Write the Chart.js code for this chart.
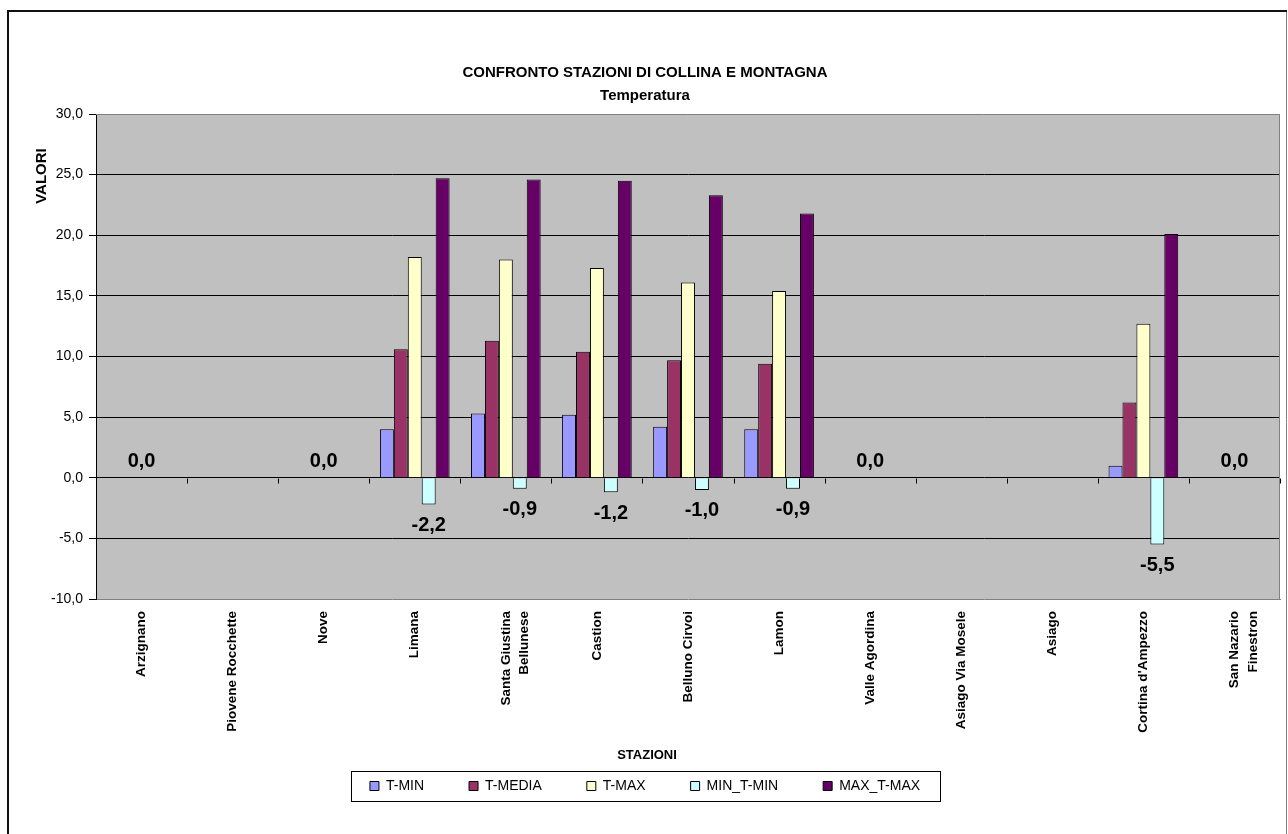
<!DOCTYPE html>
<html>
<head>
<meta charset="utf-8">
<title>Confronto stazioni di collina e montagna - Temperatura</title>
<script src="https://cdn.jsdelivr.net/npm/chart.js@4.4.1/dist/chart.umd.min.js"></script>
<style>
  html, body { margin: 0; padding: 0; background: #fff; }
  #wrap { width: 1288px; height: 834px; }
</style>
</head>
<body>
<div id="wrap"><canvas id="chart" width="1288" height="834"></canvas></div>
<script>
// Stations (two-line names are given as arrays)
const stations = [
  'Arzignano', 'Piovene Rocchette', 'Nove', 'Limana',
  ['Santa Giustina', 'Bellunese'], 'Castion', 'Belluno Cirvoi', 'Lamon',
  'Valle Agordina', 'Asiago Via Mosele', 'Asiago', "Cortina d'Ampezzo",
  ['San Nazario', 'Finestron']
];

// Temperature series (°C); null = no data for the station
const tMin    = [0, null, 0,  4.0,  5.3,  5.2,  4.2,  4.0, 0, null, null,  1.0, 0];
const tMedia  = [0, null, 0, 10.6, 11.3, 10.4,  9.7,  9.4, 0, null, null,  6.2, 0];
const tMax    = [0, null, 0, 18.2, 18.0, 17.3, 16.1, 15.4, 0, null, null, 12.7, 0];
const minTMin = [0, null, 0, -2.2, -0.9, -1.2, -1.0, -0.9, 0, null, null, -5.5, 0];
const maxTMax = [0, null, 0, 24.7, 24.6, 24.5, 23.3, 21.8, 0, null, null, 20.1, 0];

const seriesNames = ['T-MIN', 'T-MEDIA', 'T-MAX', 'MIN_T-MIN', 'MAX_T-MAX'];
const seriesColors = ['#9999FF', '#993366', '#FFFFCC', '#CCFFFF', '#660066'];

// Value axis range and step
const yMin = -10;
const yMax = 30;
const yStep = 5;

const FONT = '"Liberation Sans", Arial, Helvetica, sans-serif';
const fmt = v => v.toFixed(1).replace('.', ',');

// Frame, plot background, zero-line ticks, value labels, axis titles, legend box
const decor = {
  id: 'decor',
  beforeDraw(chart) {
    const { ctx, chartArea: a } = chart;
    ctx.save();
    ctx.fillStyle = '#ffffff';
    ctx.fillRect(0, 0, chart.width, chart.height);
    ctx.fillStyle = '#C0C0C0';
    ctx.fillRect(a.left, a.top, a.right - a.left, a.bottom - a.top);
    // outer chart frame
    ctx.strokeStyle = '#808080';
    ctx.lineWidth = 1;
    ctx.beginPath();
    ctx.moveTo(1286.5, 11);
    ctx.lineTo(1286.5, chart.height);
    ctx.stroke();
    ctx.strokeStyle = '#111';
    ctx.lineWidth = 2;
    ctx.beginPath();
    ctx.moveTo(8, chart.height);
    ctx.lineTo(8, 11);
    ctx.lineTo(1287, 11);
    ctx.stroke();
    ctx.restore();
  },
  beforeDatasetsDraw(chart) {
    const { ctx, chartArea: a, scales: { y } } = chart;
    ctx.save();
    // top and right edges of the plot area
    ctx.strokeStyle = '#808080';
    ctx.lineWidth = 1;
    ctx.beginPath();
    ctx.moveTo(a.left, a.top + 0.5);
    ctx.lineTo(a.right - 0.5, a.top + 0.5);
    ctx.lineTo(a.right - 0.5, a.bottom);
    ctx.stroke();
    // category tick marks on the zero line
    const y0 = Math.round(y.getPixelForValue(0)) + 0.5;
    const n = stations.length;
    const w = (a.right - a.left) / n;
    ctx.strokeStyle = '#000';
    ctx.beginPath();
    for (let i = 0; i <= n; i++) {
      const xi = Math.round(a.left + i * w) + 0.5;
      ctx.moveTo(xi, y0);
      ctx.lineTo(xi, y0 + 5);
    }
    ctx.stroke();
    ctx.restore();
  },
  afterDatasetsDraw(chart) {
    const { ctx } = chart;
    ctx.save();
    ctx.font = 'bold 20px ' + FONT;
    ctx.fillStyle = '#000';
    ctx.textAlign = 'center';
    ctx.textBaseline = 'middle';
    chart.getDatasetMeta(3).data.forEach((bar, i) => {
      const v = minTMin[i];
      if (v !== null && v < 0) ctx.fillText(fmt(v), bar.x, bar.y + 21);
    });
    chart.getDatasetMeta(2).data.forEach((bar, i) => {
      const v = tMax[i];
      if (v === 0) ctx.fillText(fmt(v), bar.x, bar.y - 16);
    });
    ctx.restore();
  },
  afterDraw(chart) {
    const { ctx, chartArea: a } = chart;
    ctx.save();
    ctx.fillStyle = '#000';
    ctx.textAlign = 'center';
    ctx.textBaseline = 'middle';
    // axis titles
    ctx.font = 'bold 13px ' + FONT;
    ctx.fillText('STAZIONI', chart.width / 2 + 3, a.bottom + 156);
    ctx.font = 'bold 15px ' + FONT;
    ctx.save();
    ctx.translate(a.left - 54, a.top + 62);
    ctx.rotate(-Math.PI / 2);
    ctx.fillText('VALORI', 0, 0);
    ctx.restore();
    // legend frame
    const hb = chart.legend.legendHitBoxes;
    if (hb && hb.length) {
      const first = hb[0], last = hb[hb.length - 1];
      const cy = first.top + first.height / 2;
      const l = Math.round(first.left - 19) + 0.5;
      const r = Math.round(last.left + last.width + 20) + 0.5;
      const t = Math.round(cy - 15) + 0.5;
      ctx.strokeStyle = '#000';
      ctx.lineWidth = 1;
      ctx.strokeRect(l, t, r - l, 30);
    }
    ctx.restore();
  }
};

const seriesData = [tMin, tMedia, tMax, minTMin, maxTMax];

new Chart(document.getElementById('chart'), {
  type: 'bar',
  data: {
    labels: stations,
    datasets: seriesData.map((d, i) => ({
      label: seriesNames[i],
      data: d,
      backgroundColor: seriesColors[i],
      borderColor: '#000',
      borderWidth: 1,
      categoryPercentage: 0.765,
      barPercentage: 1.0
    }))
  },
  options: {
    responsive: false,
    animation: false,
    devicePixelRatio: 1,
    layout: { padding: { left: 10, right: 8, top: 0, bottom: 36 } },
    plugins: {
      title: {
        display: true,
        text: ['CONFRONTO STAZIONI DI COLLINA E MONTAGNA', 'Temperatura'],
        color: '#000',
        font: { family: FONT, size: 15, weight: 'bold', lineHeight: '23px' },
        padding: { top: 61, bottom: 7 }
      },
      legend: {
        position: 'bottom',
        maxHeight: 64,
        labels: {
          color: '#000',
          boxWidth: 9,
          boxHeight: 9,
          padding: 45,
          font: { family: FONT, size: 14 }
        }
      },
      tooltip: { enabled: false }
    },
    scales: {
      x: {
        grid: { display: false, drawTicks: false },
        border: { display: true, color: '#808080' },
        ticks: {
          color: '#000',
          font: { family: FONT, size: 13.5, weight: 'bold', lineHeight: 1.4 },
          minRotation: 90,
          maxRotation: 90,
          autoSkip: false,
          padding: 12
        },
        afterFit(scale) { scale.height = 135; }
      },
      y: {
        min: yMin,
        max: yMax,
        grid: {
          color: c => (c.tick && (c.tick.value === yMax || c.tick.value === yMin)) ? 'rgba(0,0,0,0)' : '#000',
          tickColor: '#000',
          tickLength: 7
        },
        border: { display: true, color: '#000' },
        ticks: {
          stepSize: yStep,
          color: '#000',
          padding: 6,
          font: { family: FONT, size: 14 },
          callback: v => fmt(v)
        },
        afterFit(scale) { scale.width = 86; }
      }
    }
  },
  plugins: [decor]
});
</script>
</body>
</html>
